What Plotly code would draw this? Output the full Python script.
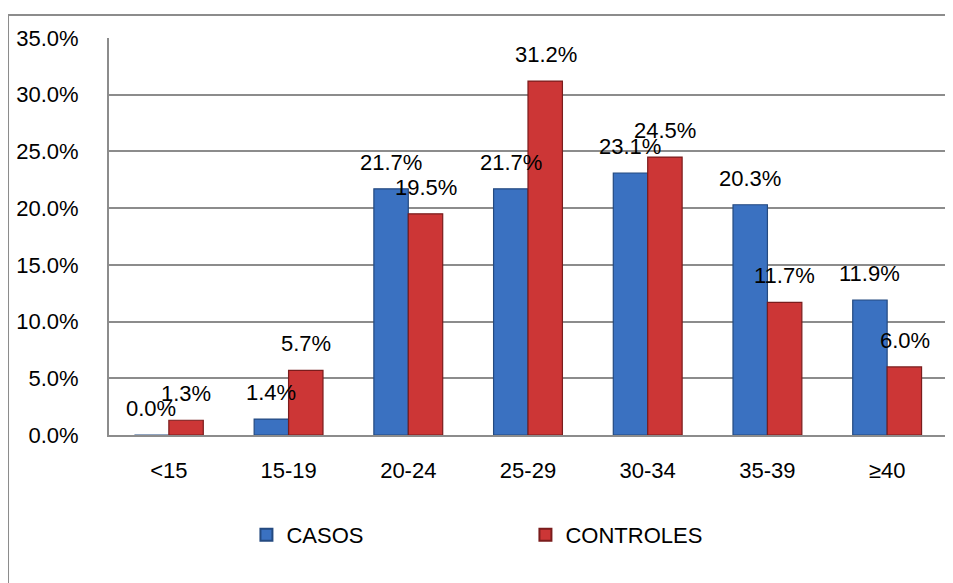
import plotly.graph_objects as go

categories = ["<15", "15-19", "20-24", "25-29", "30-34", "35-39", "≥40"]
casos = [0.0, 1.4, 21.7, 21.7, 23.1, 20.3, 11.9]
controles = [1.3, 5.7, 19.5, 31.2, 24.5, 11.7, 6.0]
y_ticks = [0, 5, 10, 15, 20, 25, 30, 35]
y_tick_labels = [f"{v:.1f}%" for v in y_ticks]

FONT = "Liberation Sans"
GRID = "#8c8c8c"

fig = go.Figure()
fig.add_trace(go.Bar(
    name="CASOS", x=categories, y=casos,
    marker=dict(color="#3a71c1", line=dict(color="#244a80", width=1.2)),
))
fig.add_trace(go.Bar(
    name="CONTROLES", x=categories, y=controles,
    marker=dict(color="#cc3636", line=dict(color="#7a1c1c", width=1.2)),
))

# data labels
annotations = []
for series, shift in ((casos, -17.5), (controles, 17.5)):
    for c, v in zip(categories, series):
        annotations.append(dict(
            x=c, y=v, xref="x", yref="y", text=f"{v:.1f}%",
            showarrow=False, xshift=shift, yshift=12, yanchor="bottom",
            font=dict(family=FONT, size=22, color="#000000"),
        ))

fig.update_layout(
    width=945, height=575,
    margin=dict(l=101, r=6, t=30, b=148),
    paper_bgcolor="white", plot_bgcolor="white",
    barmode="group", bargap=0.425, bargroupgap=0,
    font=dict(family=FONT, size=22, color="#000000"),
    showlegend=True,
    legend=dict(
        orientation="h", x=0.164, xanchor="left", y=-0.252, yanchor="middle",
        entrywidth=234, entrywidthmode="pixels",
        font=dict(family=FONT, size=22, color="#000000"),
        itemsizing="constant",
    ),
    annotations=annotations,
    shapes=[
        dict(type="line", xref="paper", yref="paper", x0=-0.1205, x1=1.2,
             y0=1.058, y1=1.058, line=dict(color=GRID, width=2)),
        dict(type="line", xref="paper", yref="paper", x0=-0.1205, x1=-0.1205,
             y0=1.058, y1=-0.5, line=dict(color=GRID, width=2)),
    ],
)
fig.update_xaxes(
    showline=True, linecolor=GRID, linewidth=2, showgrid=False,
    ticks="", ticklabelstandoff=15,
    tickfont=dict(family=FONT, size=22),
)
fig.update_yaxes(
    range=[0, 35], tickvals=y_ticks, ticktext=y_tick_labels,
    showline=True, linecolor=GRID, linewidth=2,
    showgrid=True, gridcolor=GRID, gridwidth=1.5,
    zeroline=False, ticks="", ticklabelstandoff=24,
    tickfont=dict(family=FONT, size=22),
)

fig.write_html("out.html")
